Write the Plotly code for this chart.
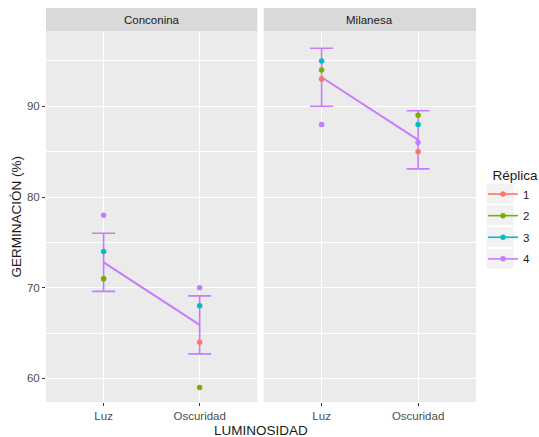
import plotly.graph_objects as go

# ---- data ----
sites = ["Conconina", "Milanesa"]
conditions = ["Luz", "Oscuridad"]
replicas = ["1", "2", "3", "4"]
colors = ["#F8766D", "#7CAE00", "#00BFC4", "#C77CFF"]

# germination (%) per replica, per site, per condition [Luz, Oscuridad]
values = {
    "Conconina": {"1": [71, 64], "2": [71, 59], "3": [74, 68], "4": [78, 70]},
    "Milanesa": {"1": [93, 85], "2": [94, 89], "3": [95, 88], "4": [88, 86]},
}
means = {"Conconina": [72.8, 65.9], "Milanesa": [93.2, 86.3]}
errors = {"Conconina": [3.2, 3.2], "Milanesa": [3.2, 3.2]}

yticks = [60, 70, 80, 90]
y_range = [57.4, 98.3]

# ---- layout geometry ----
W, H = 539, 437
ml, mr, mt, mb = 46, 63, 8, 35
pw = W - ml - mr
ph = H - mt - mb
strip_h = 23
d1 = [0, 211.3 / pw]
d2 = [217.7 / pw, 1]
ytop = 1 - strip_h / ph

FONT = "Liberation Sans, Arial, sans-serif"
purple = "#C77CFF"
fig = go.Figure()
axes = [("x", "y"), ("x2", "y2")]
for si, site in enumerate(sites):
    xa, ya = axes[si]
    fig.add_trace(go.Scatter(
        x=conditions, y=means[site], xaxis=xa, yaxis=ya, mode="lines",
        line=dict(color=purple, width=2), showlegend=False,
        error_y=dict(type="data", array=errors[site], color=purple,
                     thickness=1.6, width=11.5),
        hoverinfo="skip"))
    for ri, r in enumerate(replicas):
        fig.add_trace(go.Scatter(
            x=conditions, y=values[site][r], xaxis=xa, yaxis=ya,
            mode="markers", marker=dict(color=colors[ri], size=5.5),
            showlegend=False, legendgroup=r))

# legend entries
for ri, r in enumerate(replicas):
    fig.add_trace(go.Scatter(
        x=[None], y=[None], mode="lines+markers", name=r, legendgroup=r,
        marker=dict(color=colors[ri], size=5.5),
        line=dict(color=colors[ri], width=1.6), xaxis="x", yaxis="y"))

tickfont = dict(family=FONT, size=11.5, color="#4D4D4D")
xcommon = dict(type="category", range=[-0.6, 1.6], showgrid=True, gridcolor="white",
               gridwidth=1.1, ticks="outside", ticklen=3, tickcolor="#333333",
               tickwidth=1, tickfont=tickfont, zeroline=False, showline=False,
               fixedrange=True, automargin=False)
ycommon = dict(range=y_range, tickvals=yticks, showgrid=True, gridcolor="white",
               gridwidth=1.1, zeroline=False, showline=False, tickfont=tickfont,
               automargin=False,
               minor=dict(dtick=5, tick0=0, showgrid=True, gridcolor="white",
                          gridwidth=0.5, ticks=""))

shapes = []
annotations = []
for si, site in enumerate(sites):
    dom = d1 if si == 0 else d2
    shapes.append(dict(type="rect", xref="paper", yref="paper", x0=dom[0], x1=dom[1],
                       y0=ytop, y1=1, fillcolor="#D9D9D9", line=dict(width=0),
                       layer="below"))
    annotations.append(dict(text=site, xref="paper", yref="paper",
                            x=(dom[0] + dom[1]) / 2, y=(ytop + 1) / 2,
                            showarrow=False, xanchor="center", yanchor="middle",
                            font=dict(family=FONT, size=11.5, color="#1A1A1A")))

# legend key backgrounds
leg_x = 483
key_x0 = (leg_x + 3 - ml) / pw
key_x1 = (leg_x + 31 - ml) / pw
for ri in range(len(replicas)):
    yc = 193.5 + ri * 21.8
    shapes.append(dict(type="rect", xref="paper", yref="paper", x0=key_x0, x1=key_x1,
                       y0=(H - mb - (yc + 10.5)) / ph, y1=(H - mb - (yc - 10.5)) / ph,
                       fillcolor="#F2F2F2", line=dict(color="white", width=1),
                       layer="below"))

annotations.append(dict(text="LUMINOSIDAD", xref="paper", yref="paper", x=0.5,
                        y=-(430 - (H - mb)) / ph, yanchor="middle", showarrow=False,
                        font=dict(family=FONT, size=13.5, color="#1A1A1A")))
annotations.append(dict(text="GERMINACIÓN (%)", xref="paper", yref="paper",
                        x=-(ml - 16) / pw, xanchor="center", y=ytop / 2,
                        yanchor="middle", textangle=-90, showarrow=False,
                        font=dict(family=FONT, size=13.5, color="#1A1A1A")))

fig.update_layout(
    width=W, height=H,
    margin=dict(l=ml, r=mr, t=mt, b=mb, autoexpand=False),
    paper_bgcolor="white", plot_bgcolor="#EBEBEB",
    xaxis=dict(domain=d1, anchor="y", **xcommon),
    xaxis2=dict(domain=d2, anchor="y2", **xcommon),
    yaxis=dict(domain=[0, ytop], anchor="x", ticks="outside", ticklen=3,
               tickcolor="#333333", tickwidth=1, **ycommon),
    yaxis2=dict(domain=[0, ytop], anchor="x2", matches="y", showticklabels=False,
                ticks="", **ycommon),
    shapes=shapes, annotations=annotations,
    legend=dict(x=(leg_x - ml) / pw, xanchor="left", y=(H - mb - 162) / ph,
                yanchor="top", bgcolor="rgba(0,0,0,0)",
                title=dict(text="  Réplica", font=dict(family=FONT, size=13.5,
                                                        color="#1A1A1A")),
                font=dict(family=FONT, size=11.5, color="#1A1A1A"),
                tracegroupgap=2.6, itemwidth=30),
    showlegend=True,
)

fig.write_html("out.html", config={"displayModeBar": False},
               post_script="document.body.style.margin='0';document.body.style.overflow='hidden';")
